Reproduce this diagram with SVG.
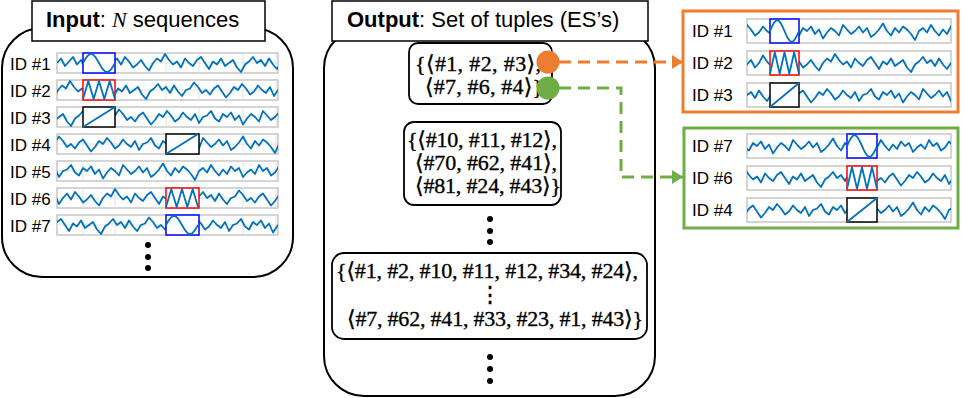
<svg xmlns="http://www.w3.org/2000/svg" xmlns:xlink="http://www.w3.org/1999/xlink" width="965" height="398" viewBox="0 0 965 398">
<style>
.lbl{font-family:"Liberation Sans",Arial,sans-serif;font-size:17px;fill:#000}
.ttl{font-family:"Liberation Sans",Arial,sans-serif;font-size:22px;fill:#000}
.math{font-family:"Liberation Serif","DejaVu Serif",serif;font-size:22px;fill:#000;stroke:#000;stroke-width:0.35}
.panel{fill:#fff;stroke:#000;stroke-width:2}
.tbox{fill:#fff;stroke:#000;stroke-width:1.5}
.ibox{fill:#fff;stroke:#000;stroke-width:1.8}
.strip{fill:#fff;stroke:#bdbdbd;stroke-width:1.3}
.grid{stroke:#e3e3e3;stroke-width:1;fill:none}
.nz{fill:none;stroke:#0072BD;stroke-width:1.8;stroke-linejoin:round}
.hb{fill:#fff;stroke-width:1.5}
.dot{fill:#000}
.con{fill:none;stroke-width:3;stroke-dasharray:12 7}
</style>
<defs>
<polyline id="nz" class="nz" vector-effect="non-scaling-stroke" transform="matrix(1,0,0,1.5,0,-5)" points="0,10 4,7 8,12 12,9 16,6 20,11 24,8 28,13 32,10 36,5 40,9 44,12 48,8 52,14 56,10 60,7 64,11 68,6 72,9 76,13 80,11 84,8 88,12 92,15 96,10 100,7 104,9 108,4 112,8 116,11 120,9 124,13 128,7 132,10 136,12 140,8 144,6 148,10 152,14 156,9 160,11 164,7 168,12 172,10 176,8 180,13 184,16 188,11 192,9 196,6 200,10 204,8 208,12 212,7 216,11 220,14 224,10 228,9 232,5 236,8 240,12 244,10 248,13 252,9 256,7 260,11 264,15 268,12 272,8 276,10 280,6 284,9 288,13 292,11 296,7 300,10 304,12 308,8 312,14 316,10 320,9 324,6 328,11 332,13 336,8 340,10 344,7 348,12 352,9 356,15 360,11 364,8 368,10 372,13 376,6 380,9 384,12 388,10 392,7 396,11 400,8 404,14 408,12 412,9 416,5 420,10 424,13 428,8 432,11 436,7 440,9 444,12 448,16 452,10 456,8 460,11 464,6 468,10 472,13 476,9 480,12 484,7 488,10 492,8 496,14 500,11 504,9 508,12 512,6 516,10 520,8 524,13 528,11 532,7 536,10 540,12 544,9 548,5 552,11 556,8 560,10"/>
<clipPath id="cl"><rect width="221" height="20"/></clipPath>
<clipPath id="cr"><rect width="204" height="24"/></clipPath>
<path id="sine" class="nz" vector-effect="non-scaling-stroke" d="M0,10 L2,6.6 4,3.6 6,1.7 8,1 10,1.7 12,3.6 14,6.6 16,10 18,13.4 20,16.4 22,18.3 24,19 26,18.3 28,16.4 30,13.4 32,10"/>
<path id="zig" class="nz" vector-effect="non-scaling-stroke" d="M0,19 L5.3,1 10.7,19 16,1 21.3,19 26.7,1 32,19"/>
<path id="diag" class="nz" vector-effect="non-scaling-stroke" d="M0,20 L32,0"/>
<marker id="ao" markerUnits="userSpaceOnUse" markerWidth="11" markerHeight="14" refX="11" refY="7" orient="auto"><path d="M0,0 L11,7 L0,14 Z" fill="#ED7D31"/></marker>
<marker id="ag" markerUnits="userSpaceOnUse" markerWidth="11" markerHeight="14" refX="11" refY="7" orient="auto"><path d="M0,0 L11,7 L0,14 Z" fill="#70AD47"/></marker>
</defs>

<!-- Input panel -->
<g id="input-panel">
<rect class="panel" x="2" y="28" width="291" height="249" rx="40"/>
<rect class="tbox" x="32" y="1" width="233" height="40"/>
<text class="ttl" x="46" y="27"><tspan font-weight="bold">Input</tspan>: <tspan font-family="Liberation Serif,serif" font-style="italic">N</tspan> sequences</text>
<circle class="dot" cx="148" cy="245" r="3"/><circle class="dot" cx="148" cy="257" r="3"/><circle class="dot" cx="148" cy="268" r="3"/>
</g>

<g id="in-1"><text class="lbl" x="10" y="69.5">ID #1</text>
<g transform="translate(57,53)"><rect class="strip" width="221" height="20"/><path class="grid" d="M26,0V20M58,0V20M109,0V20M142,0V20M186,0V20M219,0V20M0,10H221"/>
<g clip-path="url(#cl)"><use href="#nz" x="0"/></g>
<rect class="hb" x="26" width="32" height="20" stroke="#0000FF"/><use href="#sine" x="26"/></g></g>

<g id="in-2"><text class="lbl" x="10" y="96.5">ID #2</text>
<g transform="translate(57,80)"><rect class="strip" width="221" height="20"/><path class="grid" d="M26,0V20M58,0V20M109,0V20M142,0V20M186,0V20M219,0V20M0,10H221"/>
<g clip-path="url(#cl)"><use href="#nz" x="-95"/></g>
<rect class="hb" x="26" width="32" height="20" stroke="#FF0000"/><use href="#zig" x="26"/></g></g>

<g id="in-3"><text class="lbl" x="10" y="123.5">ID #3</text>
<g transform="translate(57,107)"><rect class="strip" width="221" height="20"/><path class="grid" d="M26,0V20M58,0V20M109,0V20M142,0V20M186,0V20M219,0V20M0,10H221"/>
<g clip-path="url(#cl)"><use href="#nz" x="-170"/></g>
<rect class="hb" x="26" width="32" height="20" stroke="#000"/><use href="#diag" x="26"/></g></g>

<g id="in-4"><text class="lbl" x="10" y="150.5">ID #4</text>
<g transform="translate(57,134)"><rect class="strip" width="221" height="20"/><path class="grid" d="M26,0V20M58,0V20M109,0V20M142,0V20M186,0V20M219,0V20M0,10H221"/>
<g clip-path="url(#cl)"><use href="#nz" x="-230"/></g>
<rect class="hb" x="109" width="33" height="20" stroke="#000"/><use href="#diag" x="109"/></g></g>

<g id="in-5"><text class="lbl" x="10" y="177.5">ID #5</text>
<g transform="translate(57,161)"><rect class="strip" width="221" height="20"/><path class="grid" d="M26,0V20M58,0V20M109,0V20M142,0V20M186,0V20M219,0V20M0,10H221"/>
<g clip-path="url(#cl)"><use href="#nz" x="-310"/></g></g></g>

<g id="in-6"><text class="lbl" x="10" y="204.5">ID #6</text>
<g transform="translate(57,188)"><rect class="strip" width="221" height="20"/><path class="grid" d="M26,0V20M58,0V20M109,0V20M142,0V20M186,0V20M219,0V20M0,10H221"/>
<g clip-path="url(#cl)"><use href="#nz" x="-50"/></g>
<rect class="hb" x="109" width="33" height="20" stroke="#FF0000"/><use href="#zig" x="109"/></g></g>

<g id="in-7"><text class="lbl" x="10" y="231.5">ID #7</text>
<g transform="translate(57,215)"><rect class="strip" width="221" height="20"/><path class="grid" d="M26,0V20M58,0V20M109,0V20M142,0V20M186,0V20M219,0V20M0,10H221"/>
<g clip-path="url(#cl)"><use href="#nz" x="-140"/></g>
<rect class="hb" x="109" width="33" height="20" stroke="#0000FF"/><use href="#sine" x="109"/></g></g>

<!-- Output panel -->
<g id="output-panel">
<rect class="panel" x="324" y="28" width="331" height="368" rx="40"/>
<rect class="tbox" x="332" y="1" width="316" height="40"/>
<text class="ttl" x="347" y="27"><tspan font-weight="bold">Output</tspan>: Set of tuples (ES’s)</text>
<circle class="dot" cx="490" cy="219" r="3"/><circle class="dot" cx="490" cy="231" r="3"/><circle class="dot" cx="490" cy="242" r="3"/>
<circle class="dot" cx="490" cy="357" r="3"/><circle class="dot" cx="490" cy="369" r="3"/><circle class="dot" cx="490" cy="381" r="3"/>
</g>

<g id="es-1">
<rect class="ibox" x="409" y="43" width="143" height="61" rx="9"/>
<text class="math" x="415" y="71" textLength="126">{⟨#1, #2, #3⟩,</text>
<text class="math" x="425" y="94" textLength="118">⟨#7, #6, #4⟩}</text>
</g>

<g id="es-2">
<rect class="ibox" x="404" y="122" width="157" height="83" rx="10"/>
<text class="math" x="407" y="147" textLength="150">{⟨#10, #11, #12⟩,</text>
<text class="math" x="415" y="170" textLength="142">⟨#70, #62, #41⟩,</text>
<text class="math" x="415" y="193" textLength="146">⟨#81, #24, #43⟩}</text>
</g>

<g id="es-3">
<rect class="ibox" x="332" y="253" width="315" height="86" rx="12"/>
<text class="math" x="336" y="277.5" textLength="302">{⟨#1, #2, #10, #11, #12, #34, #24⟩,</text>
<text class="math" x="490" y="301.5" text-anchor="middle" font-size="10" stroke-width="0">⋮</text>
<text class="math" x="347" y="325.5" textLength="296">⟨#7, #62, #41, #33, #23, #1, #43⟩}</text>
</g>

<!-- Orange detail -->
<g id="detail-orange">
<rect x="683" y="11" width="275" height="101" fill="#fff" stroke="#ED7D31" stroke-width="3"/>
<text class="lbl" x="692" y="37">ID #1</text>
<g transform="translate(747,19)"><rect class="strip" width="204" height="24"/><path class="grid" d="M0,12H204"/>
<g clip-path="url(#cr)"><use href="#nz" x="-280" y="2"/></g>
<rect class="hb" x="23" width="29" height="24" stroke="#0000FF"/><use href="#sine" transform="translate(23,0) scale(0.906,1.2)"/></g>
<text class="lbl" x="692" y="69">ID #2</text>
<g transform="translate(747,51)"><rect class="strip" width="204" height="24"/><path class="grid" d="M0,12H204"/>
<g clip-path="url(#cr)"><use href="#nz" x="-20" y="2"/></g>
<rect class="hb" x="23" width="29" height="24" stroke="#FF0000"/><use href="#zig" transform="translate(23,0) scale(0.906,1.2)"/></g>
<text class="lbl" x="692" y="101">ID #3</text>
<g transform="translate(747,83)"><rect class="strip" width="204" height="24"/><path class="grid" d="M0,12H204"/>
<g clip-path="url(#cr)"><use href="#nz" x="-200" y="2"/></g>
<rect class="hb" x="23" width="29" height="24" stroke="#000"/><use href="#diag" transform="translate(23,0) scale(0.906,1.2)"/></g>
</g>

<!-- Green detail -->
<g id="detail-green">
<rect x="684" y="128" width="274" height="100" fill="#fff" stroke="#70AD47" stroke-width="3"/>
<text class="lbl" x="692" y="152">ID #7</text>
<g transform="translate(747,134)"><rect class="strip" width="204" height="24"/><path class="grid" d="M0,12H204"/>
<g clip-path="url(#cr)"><use href="#nz" x="-330" y="2"/></g>
<rect class="hb" x="100" width="30" height="24" stroke="#0000FF"/><use href="#sine" transform="translate(100,0) scale(0.9375,1.2)"/></g>
<text class="lbl" x="692" y="184">ID #6</text>
<g transform="translate(747,166)"><rect class="strip" width="204" height="24"/><path class="grid" d="M0,12H204"/>
<g clip-path="url(#cr)"><use href="#nz" x="-110" y="2"/></g>
<rect class="hb" x="100" width="30" height="24" stroke="#FF0000"/><use href="#zig" transform="translate(100,0) scale(0.9375,1.2)"/></g>
<text class="lbl" x="692" y="216">ID #4</text>
<g transform="translate(747,198)"><rect class="strip" width="204" height="24"/><path class="grid" d="M0,12H204"/>
<g clip-path="url(#cr)"><use href="#nz" x="-250" y="2"/></g>
<rect class="hb" x="100" width="30" height="24" stroke="#000"/><use href="#diag" transform="translate(100,0) scale(0.9375,1.2)"/></g>
</g>

<!-- Connectors -->
<g id="connectors">
<path class="con" stroke="#ED7D31" d="M559,62 H683" marker-end="url(#ao)"/>
<path class="con" stroke="#70AD47" d="M559,88 H621 V177 H683" marker-end="url(#ag)"/>
<circle cx="548" cy="62" r="11.5" fill="#ED7D31"/>
<circle cx="548" cy="88" r="11.5" fill="#70AD47"/>
</g>
</svg>
